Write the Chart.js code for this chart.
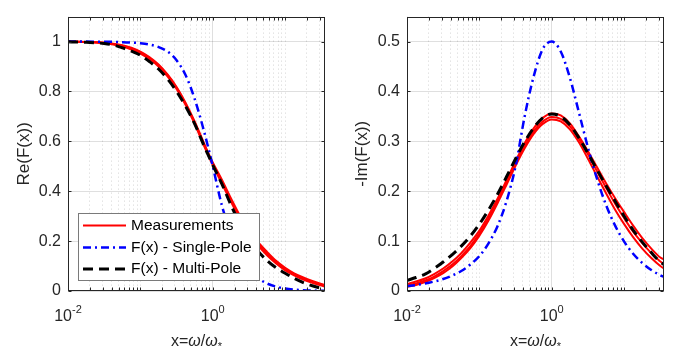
<!DOCTYPE html>
<html>
<head>
<meta charset="utf-8">
<script src="https://cdn.jsdelivr.net/npm/chart.js@4.4.1/dist/chart.umd.min.js"></script>
<style>
  body { margin: 0; background: #fff; }
  .panel { position: absolute; top: 0; height: 358px; }
</style>
</head>
<body>
<div class="panel" style="left:0;width:345px"><canvas id="reChart" width="345" height="358"></canvas></div>
<div class="panel" style="left:345px;width:340px"><canvas id="imChart" width="340" height="358"></canvas></div>
<script>
// x = omega / omega_*
const xValues = [0.01, 0.0133, 0.0178, 0.0237, 0.0316, 0.0422, 0.0562, 0.075, 0.1, 0.133,
  0.178, 0.237, 0.316, 0.422, 0.562, 0.75, 1, 1.33, 1.78, 2.37,
  3.16, 4.22, 5.62, 7.5, 10, 13.3, 17.8, 23.7, 31.6, 35.5];

// Re(F(x))
const reSingle = [0.9999, 0.9998, 0.9997, 0.9995, 0.9992, 0.9986, 0.9976, 0.996, 0.9932, 0.988,
  0.978, 0.96, 0.925, 0.865, 0.77, 0.645, 0.5, 0.345, 0.23, 0.145,
  0.088, 0.052, 0.03, 0.0175, 0.0099, 0.0056, 0.0032, 0.0018, 0.001, 0.0008];
const reMulti = [0.999, 0.998, 0.997, 0.995, 0.992, 0.986, 0.975, 0.962, 0.945, 0.92,
  0.89, 0.85, 0.8, 0.74, 0.67, 0.585, 0.505, 0.43, 0.345, 0.27,
  0.21, 0.16, 0.122, 0.093, 0.071, 0.051, 0.034, 0.021, 0.011, 0.008];
const reMeas1 = [1, 0.999, 0.998, 0.997, 0.995, 0.99, 0.983, 0.972, 0.957, 0.935,
  0.905, 0.865, 0.815, 0.75, 0.675, 0.59, 0.51, 0.44, 0.365, 0.295,
  0.24, 0.19, 0.15, 0.115, 0.088, 0.067, 0.05, 0.036, 0.025, 0.021];
const reMeas2 = [1, 0.999, 0.998, 0.996, 0.993, 0.988, 0.98, 0.968, 0.952, 0.93,
  0.9, 0.86, 0.81, 0.745, 0.67, 0.585, 0.505, 0.432, 0.358, 0.29,
  0.232, 0.183, 0.143, 0.11, 0.083, 0.063, 0.046, 0.033, 0.022, 0.018];
const reMeas3 = [1, 0.999, 0.998, 0.997, 0.995, 0.991, 0.985, 0.975, 0.96, 0.938,
  0.908, 0.868, 0.818, 0.754, 0.68, 0.595, 0.515, 0.447, 0.372, 0.302,
  0.247, 0.197, 0.157, 0.121, 0.093, 0.071, 0.054, 0.04, 0.028, 0.024];

// -Im(F(x))
const imSingle = [0.01, 0.012, 0.015, 0.019, 0.024, 0.031, 0.04, 0.053, 0.07, 0.095,
  0.13, 0.18, 0.25, 0.35, 0.43, 0.485, 0.5, 0.48, 0.4272, 0.3581,
  0.2875, 0.2245, 0.1724, 0.131, 0.099, 0.0746, 0.0561, 0.0421, 0.0316, 0.0282];
const imMulti = [0.021, 0.027, 0.034, 0.045, 0.058, 0.073, 0.09, 0.11, 0.134, 0.162,
  0.194, 0.229, 0.265, 0.299, 0.327, 0.347, 0.355, 0.35, 0.333, 0.307,
  0.276, 0.243, 0.211, 0.18, 0.15, 0.122, 0.098, 0.077, 0.058, 0.053];
const imMeas1 = [0.014, 0.019, 0.025, 0.034, 0.045, 0.059, 0.076, 0.097, 0.121, 0.151,
  0.185, 0.222, 0.26, 0.296, 0.326, 0.347, 0.356, 0.352, 0.336, 0.31,
  0.28, 0.248, 0.216, 0.186, 0.158, 0.131, 0.106, 0.085, 0.067, 0.063];
const imMeas2 = [0.011, 0.015, 0.021, 0.029, 0.04, 0.053, 0.07, 0.09, 0.115, 0.145,
  0.18, 0.217, 0.255, 0.29, 0.32, 0.34, 0.349, 0.345, 0.33, 0.305,
  0.274, 0.24, 0.207, 0.175, 0.146, 0.119, 0.096, 0.076, 0.059, 0.054];
const imMeas3 = [0.008, 0.012, 0.018, 0.026, 0.036, 0.049, 0.066, 0.086, 0.111, 0.141,
  0.176, 0.213, 0.251, 0.286, 0.315, 0.335, 0.344, 0.34, 0.324, 0.298,
  0.265, 0.23, 0.196, 0.163, 0.134, 0.108, 0.085, 0.066, 0.05, 0.045];

// axis ticks / labels
const xMin = 0.01, xMax = 35.5;
const xTickVals = [0.01, 1];
const xTickExps = ['-2', '0'];
const legendLabels = ['Measurements', 'F(x) - Single-Pole', 'F(x) - Multi-Pole'];

const fam = '"Liberation Sans", Arial, sans-serif';
const ink = '#262626';
const majorGrid = 'rgba(38,38,38,0.15)';
const minorGrid = 'rgba(38,38,38,0.2)';

const RED = { color: '#ff0000', width: 2, dash: [] };
const BLUE = { color: '#0000ff', width: 2.5, dash: [8, 4, 2, 4] };
const BLACK = { color: '#000000', width: 3, dash: [10, 6] };

const pts = ys => ys.map((y, i) => ({ x: xValues[i], y }));

function lineSet(ys, st, order) {
  return {
    data: pts(ys), borderColor: st.color, borderWidth: st.width, borderDash: st.dash,
    pointRadius: 0, fill: false, cubicInterpolationMode: 'monotone', order
  };
}

const isLabelled = tick => tick && xTickVals.some(v => Math.abs(v - tick.value) < 1e-9);

function xScale() {
  return {
    type: 'logarithmic', min: xMin, max: xMax,
    afterBuildTicks: s => {
      const t = [];
      for (let e = -2; e <= 1; e++) {
        for (let m = 1; m <= 9; m++) {
          const v = +(m * Math.pow(10, e)).toPrecision(3);
          if (v >= xMin && v <= xMax) t.push({ value: v, major: m === 1 });
        }
      }
      s.ticks = t;
    },
    afterFit: s => { s.height = 67; },
    ticks: { display: false },
    grid: { drawTicks: false, lineWidth: 1, color: c => isLabelled(c.tick) ? majorGrid : minorGrid },
    border: { display: false, dash: c => (c.tick && !isLabelled(c.tick)) ? [1, 3] : [] }
  };
}

function yScale(max, step, title, titlePad, width) {
  return {
    min: 0, max,
    afterFit: s => { s.width = width; },
    ticks: {
      stepSize: step, includeBounds: false, padding: 7, color: ink, font: { family: fam, size: 16 },
      callback: v => String(+v.toFixed(2))
    },
    grid: { drawTicks: false, color: majorGrid },
    border: { display: false },
    title: { display: true, text: title, color: ink, font: { family: fam, size: 17 }, padding: { top: titlePad, bottom: 0 } }
  };
}

// box with inward tick marks, like the original axes
const framePlugin = {
  id: 'frame',
  afterDraw(chart) {
    const { ctx, chartArea: a, scales } = chart;
    ctx.save();
    ctx.strokeStyle = ink;
    ctx.lineWidth = 1;
    ctx.setLineDash([]);
    const L = Math.round(a.left) + 0.5, R = Math.round(a.right) - 0.5;
    const T = Math.round(a.top) + 0.5, B = Math.round(a.bottom) - 0.5;
    ctx.strokeRect(L, T, R - L, B - T);
    ctx.beginPath();
    scales.x.ticks.forEach(t => {
      const px = Math.round(scales.x.getPixelForValue(t.value)) + 0.5;
      ctx.moveTo(px, B); ctx.lineTo(px, B - 3);
      ctx.moveTo(px, T); ctx.lineTo(px, T + 3);
    });
    scales.y.ticks.forEach(t => {
      const py = Math.round(scales.y.getPixelForValue(t.value)) + 0.5;
      ctx.moveTo(L, py); ctx.lineTo(L + 3, py);
      ctx.moveTo(R, py); ctx.lineTo(R - 3, py);
    });
    ctx.stroke();

    // x tick labels 10^n
    ctx.fillStyle = ink;
    ctx.textBaseline = 'alphabetic';
    ctx.textAlign = 'left';
    xTickVals.forEach((v, i) => {
      const px = scales.x.getPixelForValue(v);
      ctx.font = `16px ${fam}`;
      const wb = ctx.measureText('10').width;
      ctx.font = `11px ${fam}`;
      const we = ctx.measureText(xTickExps[i]).width;
      const x0 = px - (wb + we) / 2;
      ctx.font = `16px ${fam}`;
      ctx.fillText('10', x0, 321);
      ctx.font = `11px ${fam}`;
      ctx.fillText(xTickExps[i], x0 + wb, 313);
    });

    // x title: x=ω/ω*
    const parts = [
      { t: 'x=', f: `16px ${fam}`, dy: 0 },
      { t: 'ω', f: `italic 16px ${fam}`, dy: 0 },
      { t: '/', f: `16px ${fam}`, dy: 0 },
      { t: 'ω', f: `italic 16px ${fam}`, dy: 0 },
      { t: '*', f: `11px ${fam}`, dy: 4 }
    ];
    let tw = 0;
    parts.forEach(p => { ctx.font = p.f; p.w = ctx.measureText(p.t).width; tw += p.w; });
    let cx = (a.left + a.right) / 2 - tw / 2;
    parts.forEach(p => { ctx.font = p.f; ctx.fillText(p.t, cx, 346 + p.dy); cx += p.w; });
    ctx.restore();
  }
};

const legendPlugin = {
  id: 'boxLegend',
  afterDatasetsDraw(chart) {
    const { ctx } = chart;
    const styles = [RED, BLUE, BLACK];
    const rowsY = [225.5, 247.5, 269];
    ctx.save();
    ctx.fillStyle = '#ffffff';
    ctx.fillRect(78.5, 213.5, 181, 67);
    ctx.strokeStyle = '#7a7a7a';
    ctx.lineWidth = 1;
    ctx.strokeRect(78.5, 213.5, 181, 67);
    legendLabels.forEach((lab, i) => {
      const st = styles[i];
      ctx.strokeStyle = st.color;
      ctx.lineWidth = st.width;
      ctx.setLineDash(st.dash);
      ctx.beginPath();
      ctx.moveTo(83, rowsY[i]);
      ctx.lineTo(126, rowsY[i]);
      ctx.stroke();
      ctx.setLineDash([]);
      ctx.fillStyle = '#000';
      ctx.font = `15.5px ${fam}`;
      ctx.textBaseline = 'middle';
      ctx.fillText(lab, 131, rowsY[i]);
    });
    ctx.restore();
  }
};

function makeChart(id, sets, yOpts, rightPad, plugins) {
  return new Chart(document.getElementById(id), {
    type: 'line',
    data: { datasets: sets },
    options: {
      responsive: false,
      animation: false,
      layout: { padding: { top: 3, right: rightPad, bottom: 0, left: 0 } },
      plugins: { legend: { display: false }, tooltip: { enabled: false } },
      scales: { x: xScale(), y: yOpts }
    },
    plugins
  });
}

makeChart('reChart', [
  lineSet(reMulti, BLACK, 0),
  lineSet(reSingle, BLUE, 1),
  lineSet(reMeas1, RED, 2),
  lineSet(reMeas2, RED, 3),
  lineSet(reMeas3, RED, 4)
], yScale(1.1, 0.2, 'Re(F(x))', 14, 68), 20, [legendPlugin, framePlugin]);

makeChart('imChart', [
  lineSet(imMulti, BLACK, 0),
  lineSet(imSingle, BLUE, 1),
  lineSet(imMeas1, RED, 2),
  lineSet(imMeas2, RED, 3),
  lineSet(imMeas3, RED, 4)
], yScale(0.55, 0.1, '-Im(F(x))', 7, 62), 21, [framePlugin]);
</script>
</body>
</html>
